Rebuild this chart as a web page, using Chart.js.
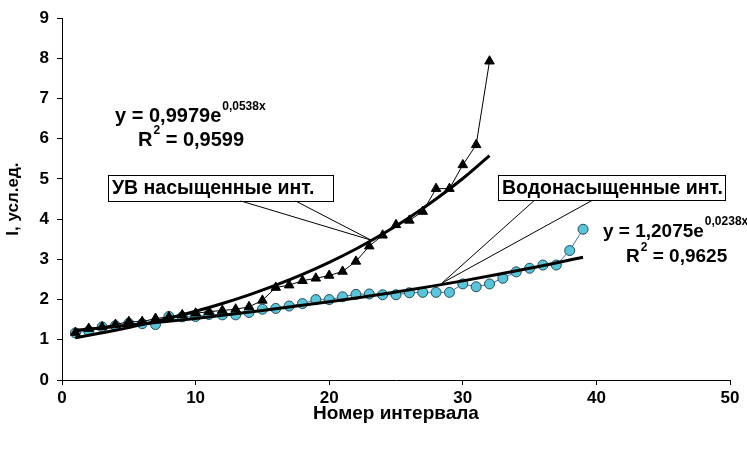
<!DOCTYPE html>
<html>
<head>
<meta charset="utf-8">
<script src="https://cdn.jsdelivr.net/npm/chart.js@4.4.0/dist/chart.umd.min.js"></script>
<style>
html,body{margin:0;padding:0;background:#fff;}
#wrap{width:747px;height:452px;position:relative;}
</style>
</head>
<body>
<div id="wrap"><canvas id="c" width="747" height="452"></canvas></div>
<script>
// ---- data ----
const uvIntervals = [1,2,3,4,5,6,7,8,9,10,11,12,13,14,15,16,17,18,19,20,21,22,23,24,25,26,27,28,29,30,31,32];
const uvValues = [1.18,1.28,1.32,1.38,1.45,1.45,1.53,1.57,1.62,1.66,1.70,1.73,1.76,1.82,1.98,2.30,2.36,2.47,2.53,2.60,2.70,2.95,3.33,3.60,3.86,3.97,4.19,4.76,4.76,5.35,5.85,7.93];

const waterIntervals = [1,2,3,4,5,6,7,8,9,10,11,12,13,14,15,16,17,18,19,20,21,22,23,24,25,26,27,28,29,30,31,32,33,34,35,36,37,38,39];
const waterValues = [1.17,1.22,1.32,1.35,1.41,1.40,1.38,1.58,1.57,1.58,1.63,1.62,1.62,1.68,1.76,1.78,1.84,1.90,2.00,2.00,2.07,2.13,2.14,2.12,2.12,2.17,2.18,2.18,2.18,2.39,2.32,2.39,2.53,2.69,2.78,2.86,2.86,3.22,3.75];

// trend lines (values of the fitted curves printed on the chart: y = 0,9979e^0,0538x and y = 1,2075e^0,0238x)
const uvTrendX = [1,2,4,6,8,10,12,14,16,18,20,22,24,26,28,30,32];
const uvTrendY = [1.053,1.111,1.238,1.378,1.535,1.709,1.903,2.119,2.360,2.628,2.927,3.259,3.630,4.042,4.501,5.012,5.582];
const waterTrendX = [1,5,10,15,20,25,30,35,39];
const waterTrendY = [1.237,1.360,1.532,1.726,1.944,2.189,2.466,2.778,3.055];

const xTicks = [0,10,20,30,40,50];
const yTicks = [0,1,2,3,4,5,6,7,8,9];

const uvLabel = 'УВ насыщенные инт.';
const waterLabel = 'Водонасыщенные инт.';
const uvEq = ['y = 0,9979e', '0,0538x', '0,9599'];
const waterEq = ['y = 1,2075e', '0,0238x', '0,9625'];

const pts = (xs, ys) => xs.map((x, i) => ({x: x, y: ys[i]}));

const FONT = '"Liberation Sans", Arial, sans-serif';

const annot = {
  id: 'annot',
  afterDatasetsDraw(chart) {
    const ctx = chart.ctx;
    const xs = chart.scales.x, ys = chart.scales.y;
    const X = v => xs.getPixelForValue(v), Y = v => ys.getPixelForValue(v);
    ctx.save();
    ctx.fillStyle = '#000';
    ctx.strokeStyle = '#000';
    ctx.textBaseline = 'middle';

    function eq(parts, size, x, y, rx, ry) {
      const big = 'bold ' + size + 'px ' + FONT, small = 'bold 12px ' + FONT;
      let px = X(x), py = Y(y);
      ctx.font = big;
      ctx.textAlign = 'left';
      ctx.fillText(parts[0], px, py);
      const w = ctx.measureText(parts[0]).width;
      ctx.font = small;
      ctx.fillText(parts[1], px + w + 1, py - 10);
      let qx = X(rx), qy = Y(ry);
      ctx.font = big;
      ctx.fillText('R', qx, qy);
      const wr = ctx.measureText('R').width;
      ctx.font = small;
      ctx.fillText('2', qx + wr + 1, qy - 9);
      const w2 = ctx.measureText('2').width;
      ctx.font = big;
      ctx.fillText(' = ' + parts[2], qx + wr + w2 + 1, qy);
    }

    function box(text, x0, y0, x1, y1, lines, tx, ty) {
      ctx.lineWidth = 1;
      ctx.beginPath();
      lines.forEach(p => { ctx.moveTo(X(p[0]), Y(p[1])); ctx.lineTo(X(tx), Y(ty)); });
      ctx.stroke();
      const bx = X(x0), by = Y(y0), bw = X(x1) - X(x0), bh = Y(y1) - Y(y0);
      ctx.fillStyle = '#fff';
      ctx.fillRect(bx, by, bw, bh);
      ctx.strokeRect(Math.round(bx) + 0.5, Math.round(by) + 0.5, Math.round(bw), Math.round(bh));
      ctx.fillStyle = '#000';
      ctx.font = 'bold 19.5px ' + FONT;
      ctx.textAlign = 'left';
      ctx.fillText(text, bx + 4, by + bh / 2 + 1);
    }

    eq(uvEq, 20, 3.97, 6.56, 5.69, 5.97);
    eq(waterEq, 19, 40.49, 3.69, 42.22, 3.07);
    box(uvLabel, 3.44, 5.10, 20.28, 4.46, [[13.32, 4.46], [17.44, 4.46]], 23.13, 3.48);
    box(waterLabel, 32.63, 5.10, 49.63, 4.48, [[35.4, 4.48], [39.75, 4.48]], 28.44, 2.41);
    ctx.restore();
  }
};

new Chart(document.getElementById('c'), {
  type: 'scatter',
  data: {
    datasets: [
      {label: 'trend1', data: pts(uvTrendX, uvTrendY), showLine: true, borderColor: '#000', borderWidth: 3, pointRadius: 0, cubicInterpolationMode: 'monotone'},
      {label: 'trend2', data: pts(waterTrendX, waterTrendY), showLine: true, borderColor: '#000', borderWidth: 3, pointRadius: 0, cubicInterpolationMode: 'monotone'},
      {label: uvLabel, data: pts(uvIntervals, uvValues), showLine: true, borderColor: '#000', borderWidth: 1, pointStyle: 'triangle', pointRadius: 5.5, pointBackgroundColor: '#000', pointBorderColor: '#000', pointBorderWidth: 1},
      {label: waterLabel, data: pts(waterIntervals, waterValues), showLine: true, borderColor: '#3a6fc4', borderWidth: 1, pointStyle: 'circle', pointRadius: 5, pointBackgroundColor: '#5cc4d6', pointBorderColor: '#1f4d5c', pointBorderWidth: 1}
    ]
  },
  options: {
    responsive: false,
    animation: false,
    events: [],
    layout: {padding: {left: 0, top: 18, right: 17, bottom: 0}},
    plugins: {legend: {display: false}, tooltip: {enabled: false}},
    scales: {
      x: {
        type: 'linear', min: 0, max: 50,
        afterBuildTicks: s => { s.ticks = xTicks.map(v => ({value: v})); },
        afterFit: s => { s.height = 72; },
        grid: {drawOnChartArea: false, drawTicks: true, tickLength: 5, color: '#000', lineWidth: 1},
        border: {color: '#000', width: 1},
        ticks: {color: '#000', font: {family: FONT, size: 17, weight: 'bold'}, padding: 3, maxRotation: 0},
        title: {display: true, text: 'Номер интервала', color: '#000', font: {family: FONT, size: 19, weight: 'bold'}, padding: {top: 0, bottom: 27}}
      },
      y: {
        type: 'linear', min: 0, max: 9,
        afterBuildTicks: s => { s.ticks = yTicks.map(v => ({value: v})); },
        afterFit: s => { s.width = 62; },
        grid: {drawOnChartArea: false, drawTicks: true, tickLength: 5, color: '#000', lineWidth: 1},
        border: {color: '#000', width: 1},
        ticks: {color: '#000', font: {family: FONT, size: 17, weight: 'bold'}, padding: 8},
        title: {display: true, text: 'I, усл.ед.', color: '#000', font: {family: FONT, size: 17, weight: 'bold'}, padding: {top: 3, bottom: 0}}
      }
    }
  },
  plugins: [annot]
});
</script>
</body>
</html>
